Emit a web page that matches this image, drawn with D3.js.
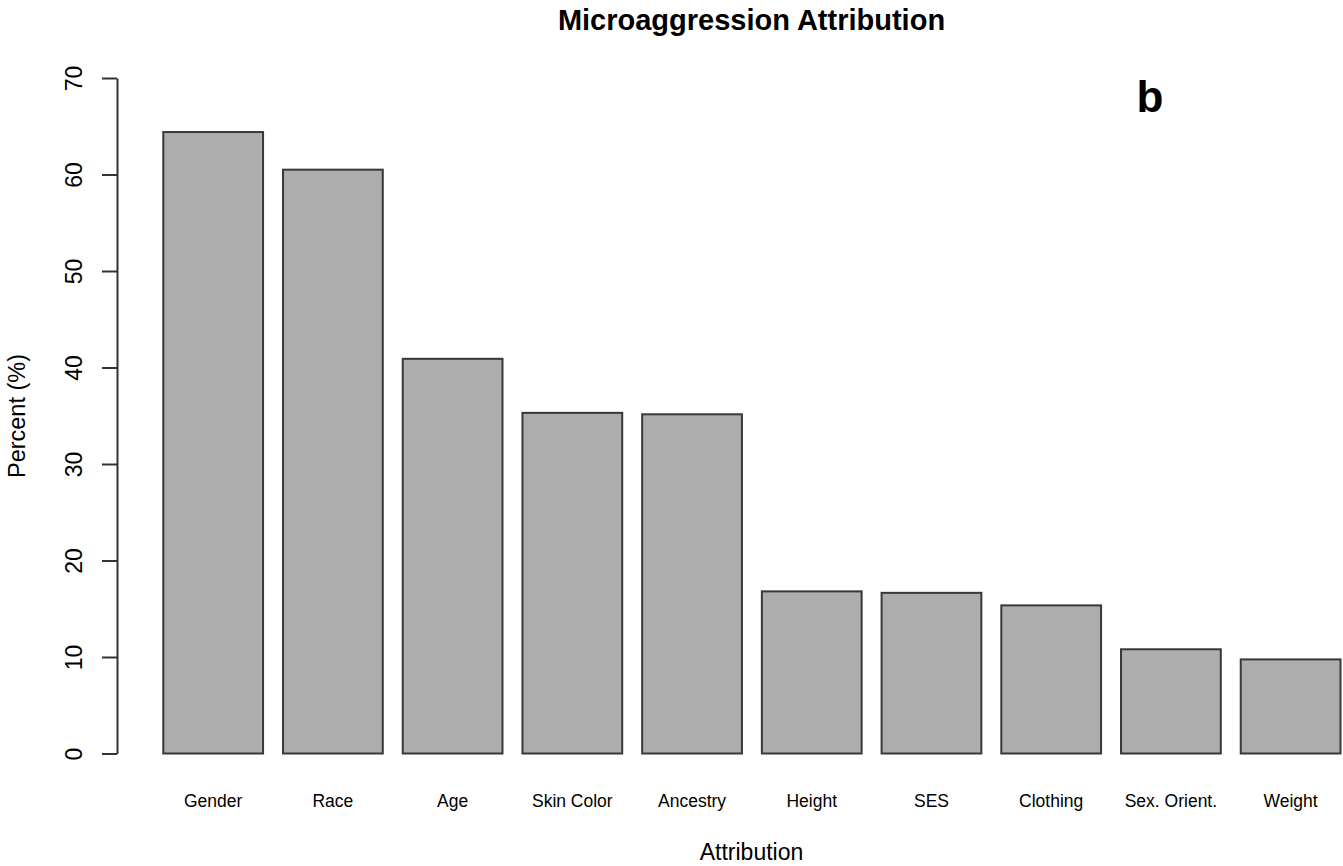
<!DOCTYPE html>
<html>
<head>
<meta charset="utf-8">
<script src="https://cdn.jsdelivr.net/npm/d3@7/dist/d3.min.js"></script>
<style>
  html, body { margin: 0; padding: 0; background: #fff; }
  svg { display: block; }
  text { font-family: "Liberation Sans", Arial, Helvetica, sans-serif; fill: #000; }
</style>
</head>
<body>
<svg id="chart" width="1343" height="866"></svg>
<script>
const categories = ["Gender", "Race", "Age", "Skin Color", "Ancestry", "Height", "SES", "Clothing", "Sex. Orient.", "Weight"];
const percents = [64.4, 60.5, 40.9, 35.3, 35.15, 16.8, 16.65, 15.35, 10.8, 9.75];
const yTicks = [0, 10, 20, 30, 40, 50, 60, 70];
const chartTitle = "Microaggression Attribution";
const xLabel = "Attribution";
const yLabel = "Percent (%)";
const panelLetter = "b";

const svg = d3.select("#chart");

const x = d3.scaleBand()
  .domain(categories)
  .range([163.3, 1340.5])
  .paddingInner(1 / 6)
  .paddingOuter(0);

const y = d3.scaleLinear()
  .domain([0, 70])
  .range([753.5, 78]);

// bars
svg.append("g")
  .selectAll("rect")
  .data(categories.map((c, i) => ({ c, v: percents[i] })))
  .join("rect")
  .attr("x", d => x(d.c))
  .attr("y", d => y(d.v))
  .attr("width", x.bandwidth())
  .attr("height", d => y(0) - y(d.v))
  .attr("fill", "#adadad")
  .attr("stroke", "#383838")
  .attr("stroke-width", 2);

// y axis
const yAxis = svg.append("g")
  .attr("transform", "translate(117,0)")
  .call(d3.axisLeft(y).tickValues(yTicks).tickSize(15).tickSizeOuter(0).tickFormat(d3.format("d")));
yAxis.select(".domain").attr("stroke", "#333").attr("stroke-width", 2);
yAxis.selectAll(".tick line").attr("stroke", "#333").attr("stroke-width", 2);
yAxis.selectAll(".tick text")
  .attr("transform", "rotate(-90)")
  .attr("x", 0)
  .attr("y", -35)
  .attr("dy", 0)
  .attr("text-anchor", "middle")
  .style("font-size", "23px")
  .style("font-family", "'Liberation Sans', Arial, sans-serif")
  .attr("fill", "#000");

// category labels
svg.append("g")
  .selectAll("text")
  .data(categories)
  .join("text")
  .attr("x", d => x(d) + x.bandwidth() / 2)
  .attr("y", 807)
  .attr("text-anchor", "middle")
  .style("font-size", "17.5px")
  .text(d => d);

// title
svg.append("text")
  .attr("x", 751.5)
  .attr("y", 29.5)
  .attr("text-anchor", "middle")
  .style("font-size", "29px")
  .style("font-weight", "bold")
  .text(chartTitle);

// panel letter
svg.append("text")
  .attr("x", 1150)
  .attr("y", 112)
  .attr("text-anchor", "middle")
  .style("font-size", "44px")
  .style("font-weight", "bold")
  .text(panelLetter);

// x label
svg.append("text")
  .attr("x", 751.5)
  .attr("y", 860)
  .attr("text-anchor", "middle")
  .style("font-size", "23px")
  .text(xLabel);

// y label
svg.append("text")
  .attr("transform", "translate(25,416) rotate(-90)")
  .attr("text-anchor", "middle")
  .style("font-size", "23.5px")
  .text(yLabel);
</script>
</body>
</html>
